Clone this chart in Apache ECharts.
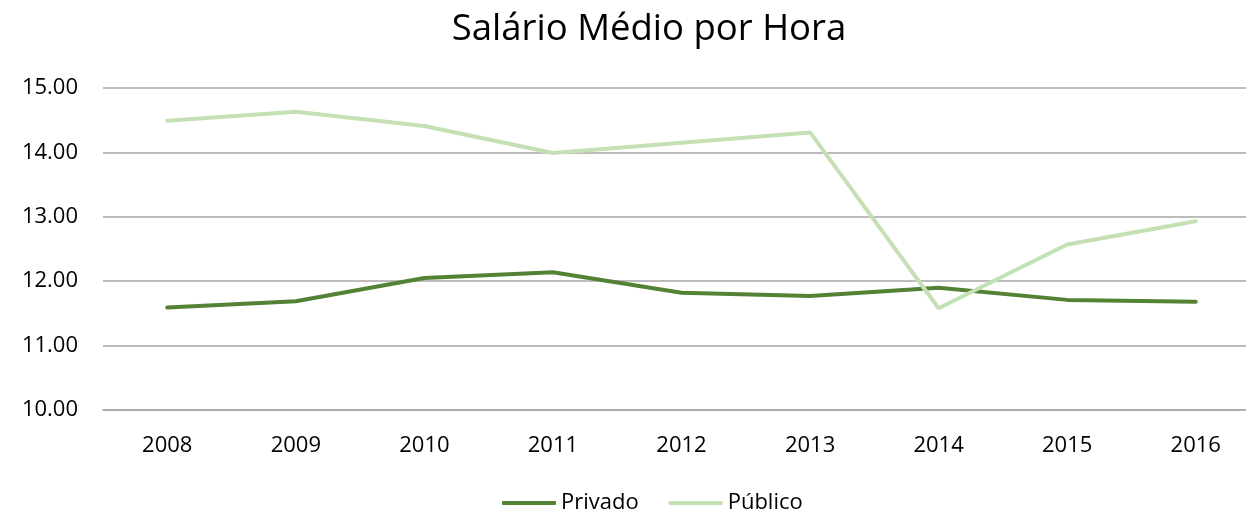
<!DOCTYPE html>
<html>
<head>
<meta charset="utf-8">
<script src="https://cdn.jsdelivr.net/npm/echarts@6/dist/echarts.min.js"></script>
<style>
  html, body { margin: 0; padding: 0; background: #fff; }
  #main { width: 1246px; height: 511px; }
</style>
</head>
<body>
<div id="main"></div>
<script>
// dados
const anos = ['2008', '2009', '2010', '2011', '2012', '2013', '2014', '2015', '2016'];
const privado = [11.59, 11.69, 12.05, 12.14, 11.82, 11.77, 11.90, 11.71, 11.68];
const publico = [14.49, 14.63, 14.41, 13.99, 14.15, 14.31, 11.58, 12.57, 12.93];

const fonte = '"Open Sans", "Noto Sans", sans-serif';
const myChart = echarts.init(document.getElementById('main'));

const option = {
    animation: false,
    title: {
        text: 'Salário Médio por Hora',
        left: 644,
        top: 6,
        textAlign: 'center',
        textStyle: { fontFamily: fonte, fontSize: 36.5, fontWeight: 'normal', color: '#000' }
    },
    legend: {
        data: ['Privado', 'Público'],
        bottom: -8,
        left: 497,
        itemWidth: 54,
        itemHeight: 4,
        itemGap: 30,
        icon: 'roundRect',
        textStyle: { fontFamily: fonte, fontSize: 22, color: '#000' }
    },
    grid: {
        left: 103,
        right: -14,
        top: 88,
        bottom: 101,
        outerBoundsMode: 'none',
        containLabel: false
    },
    xAxis: {
        type: 'category',
        data: anos,
        boundaryGap: true,
        axisLine: { show: true, lineStyle: { color: '#a6a6a6', width: 1.5 } },
        axisTick: { show: false },
        axisLabel: { fontFamily: fonte, fontSize: 22, color: '#000', margin: 25 }
    },
    yAxis: {
        type: 'value',
        min: 10,
        max: 15,
        interval: 1,
        axisLine: { show: false },
        axisTick: { show: false },
        splitLine: { lineStyle: { color: '#a6a6a6', width: 1.5 } },
        axisLabel: {
            fontFamily: fonte, fontSize: 22, color: '#000', margin: 25,
            formatter: v => v.toFixed(2)
        }
    },
    series: [
        {
            name: 'Privado',
            type: 'line',
            data: privado,
            symbol: 'none',
            lineStyle: { color: '#548235', width: 4, cap: 'round' },
            itemStyle: { color: '#548235' }
        },
        {
            name: 'Público',
            type: 'line',
            data: publico,
            symbol: 'none',
            lineStyle: { color: '#c5e0b4', width: 4, cap: 'round' },
            itemStyle: { color: '#c5e0b4' }
        }
    ]
};
myChart.setOption(option);
</script>
</body>
</html>
